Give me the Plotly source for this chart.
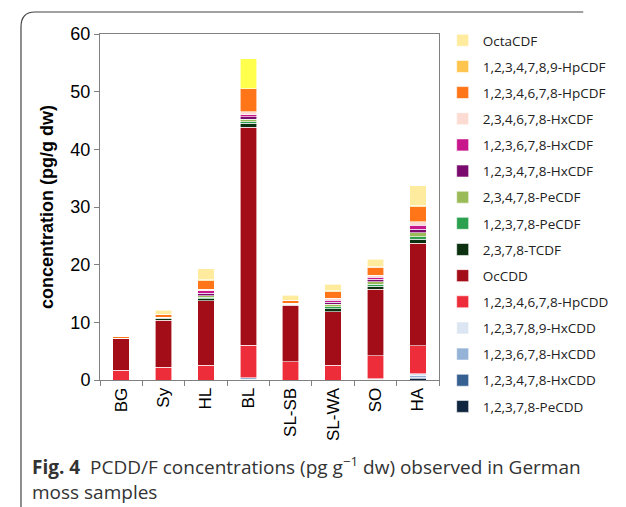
import plotly.graph_objects as go

categories = ["BG", "Sy", "HL", "BL", "SL-SB", "SL-WA", "SO", "HA"]

# congeners, bottom of stack first
congeners = [
    "1,2,3,7,8-PeCDD",
    "1,2,3,4,7,8-HxCDD",
    "1,2,3,6,7,8-HxCDD",
    "1,2,3,7,8,9-HxCDD",
    "1,2,3,4,6,7,8-HpCDD",
    "OcCDD",
    "2,3,7,8-TCDF",
    "1,2,3,7,8-PeCDF",
    "2,3,4,7,8-PeCDF",
    "1,2,3,4,7,8-HxCDF",
    "1,2,3,6,7,8-HxCDF",
    "2,3,4,6,7,8-HxCDF",
    "1,2,3,4,6,7,8-HpCDF",
    "1,2,3,4,7,8,9-HpCDF",
    "OctaCDF",
]

PeCDD_12378 = [0.0, 0.0, 0.0, 0.05, 0.0, 0.0, 0.02, 0.25]
HxCDD_123478 = [0.0, 0.0, 0.0, 0.1, 0.0, 0.0, 0.08, 0.2]
HxCDD_123678 = [0.0, 0.0, 0.0, 0.2, 0.0, 0.0, 0.15, 0.35]
HxCDD_123789 = [0.0, 0.0, 0.0, 0.05, 0.0, 0.0, 0.0, 0.3]
HpCDD_1234678 = [1.7, 2.2, 2.6, 5.67, 3.18, 2.6, 3.97, 4.8]
OcCDD = [5.5, 8.2, 11.16, 37.75, 9.82, 9.25, 11.5, 17.8]
TCDF_2378 = [0.0, 0.35, 0.35, 0.7, 0.1, 0.52, 0.52, 0.7]
PeCDF_12378 = [0.0, 0.05, 0.23, 0.29, 0.05, 0.35, 0.35, 0.4]
PeCDF_23478 = [0.0, 0.05, 0.29, 0.4, 0.05, 0.4, 0.46, 0.75]
HxCDF_123478 = [0.0, 0.0, 0.4, 0.46, 0.05, 0.4, 0.4, 0.6]
HxCDF_123678 = [0.0, 0.0, 0.46, 0.35, 0.05, 0.35, 0.4, 0.7]
HxCDF_234678 = [0.0, 0.0, 0.23, 0.5, 0.0, 0.29, 0.35, 0.6]
HpCDF_1234678 = [0.3, 0.5, 1.5, 3.95, 0.45, 1.16, 1.33, 2.6]
HpCDF_1234789 = [0.0, 0.05, 0.17, 0.05, 0.05, 0.17, 0.12, 0.25]
OctaCDF = [0.0, 0.7, 1.9, 5.15, 0.9, 1.1, 1.27, 3.35]

series_values = [
    PeCDD_12378, HxCDD_123478, HxCDD_123678, HxCDD_123789, HpCDD_1234678,
    OcCDD, TCDF_2378, PeCDF_12378, PeCDF_23478, HxCDF_123478, HxCDF_123678,
    HxCDF_234678, HpCDF_1234678, HpCDF_1234789, OctaCDF,
]

colors = [
    "#10253F", "#376092", "#95B3D7", "#DCE6F2", "#EE2D3A", "#A30D18",
    "#0B3110", "#2BA04E", "#9BBB59", "#7A0A6E", "#C8168C", "#FCDCD2",
    "#FF7518", "#FFC54E", "#FFEB9E",
]

W, H = 626, 507
L, R, T, B = 100, 469, 34, 380  # plot area in screen pixels


def px(x):
    return (x - L) / (R - L)


def py(y):
    return (B - y) / (B - T)


fig = go.Figure()
n = len(congeners)
for i, (name, vals, col) in enumerate(zip(congeners, series_values, colors)):
    mcol = col
    if name == "OctaCDF":
        mcol = ["#FFFF4D" if c == "BL" else col for c in categories]
    fig.add_trace(go.Bar(
        x=categories, y=vals, name=name, legendgroup=name, legendrank=n - i,
        marker=dict(color=mcol, line=dict(color="rgba(255,255,255,0.85)", width=0.7)),
        hoverinfo="x+y+name",
    ))

axis_col = "#808080"
fig.update_layout(
    width=W, height=H,
    margin=dict(l=L, r=W - R, t=T, b=H - B),
    paper_bgcolor="white", plot_bgcolor="white",
    barmode="stack", bargap=0.61,
    font=dict(family="Arial", color="#000"),
    showlegend=True,
    legend=dict(
        x=px(473), y=py(25), xanchor="left", yanchor="top",
        traceorder="grouped", tracegroupgap=5.6, maxheight=480,
        font=dict(family="Open Sans", size=13.5, color="#222"),
        itemwidth=30, bgcolor="rgba(0,0,0,0)",
    ),
    xaxis=dict(
        showline=True, linecolor=axis_col, linewidth=1, mirror=True,
        ticks="outside", tickson="boundaries", ticklen=5, tickcolor=axis_col,
        tickangle=-90, tickfont=dict(family="Arial", size=17, color="#000"),
        showgrid=False,
    ),
    yaxis=dict(
        range=[0, 60], dtick=10, showline=True, linecolor=axis_col, linewidth=1,
        mirror=True, ticks="outside", ticklen=5, tickcolor=axis_col,
        tickfont=dict(family="Arial", size=18, color="#000"), showgrid=False,
        title=dict(text="<b>concentration (pg/g dw)</b>",
                   font=dict(family="Arial", size=18, color="#000"), standoff=12),
    ),
)

# journal frame (rounded corner top-left)
x0, y0, x1, yt, r = px(14), py(H), px(W), py(12), 15
fig.add_shape(
    type="path", xref="paper", yref="paper",
    path=(f"M {x0},{y0} L {x0},{py(12 + r)} Q {x0},{yt} {px(14 + r)},{yt} L {x1},{yt}"),
    line=dict(color="#444", width=1.2),
)

fig.add_annotation(
    xref="paper", yref="paper", x=px(24), y=py(450), xanchor="left", yanchor="top",
    align="left", showarrow=False,
    text=("<b>Fig. 4</b>  PCDD/F concentrations (pg g<sup>\u22121</sup> dw) observed in German"
          "<br>moss samples"),
    font=dict(family="Open Sans", size=19, color="#333"),
)

fig.write_html(
    "out.html",
    config={"displayModeBar": False},
    post_script="document.body.style.margin='0';document.body.style.overflow='hidden';",
)
